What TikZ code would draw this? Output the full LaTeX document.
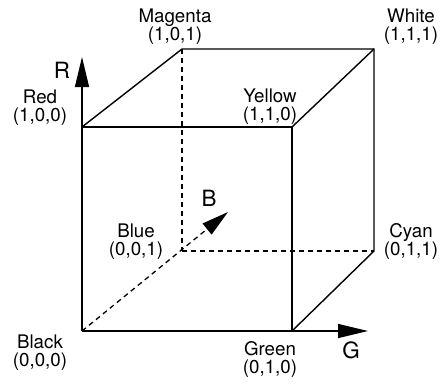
\documentclass[tikz,border=0pt]{standalone}
\usepackage{fontspec}
\setmainfont{TeX Gyre Heros}
\usetikzlibrary{arrows.meta}
\begin{document}
\begin{tikzpicture}[x=1bp,y=-1bp,
  edge/.style={line width=1.4bp},
  hidden/.style={line width=1.3bp, dash pattern=on 5bp off 4bp},
  axis/.style={line width=1.4bp, -{Triangle[length=30bp,width=14bp]}},
  lbl/.style={inner sep=0pt, align=center, font=\fontsize{18.8}{18}\selectfont},
  axlbl/.style={inner sep=0pt, font=\fontsize{22.5}{24}\selectfont}]
\useasboundingbox (0,0) rectangle (443,383);
% corners
\coordinate (K) at (82,331);
\coordinate (Rc) at (82,127);
\coordinate (Gc) at (292,331);
\coordinate (Yc) at (292,127);
\coordinate (Mc) at (182,49);
\coordinate (Wc) at (374,49);
\coordinate (Bc) at (182,251);
\coordinate (Cc) at (374,251);
\coordinate (Rtip) at (82,57);
\coordinate (Gtip) at (368,331);
\coordinate (Btip) at (228,212);
% hidden edges
\draw[hidden] (Mc) -- (Bc);
\draw[hidden] (Bc) -- (Cc);
\draw[hidden, -{Triangle[length=27bp,width=14bp]}] (K) -- (Btip);
% visible edges
\draw[edge] (Rc) -- (Yc) -- (Gc);
\draw[edge] (Rc) -- (Mc) -- (Wc) -- (Cc) -- (Gc);
\draw[edge] (Yc) -- (Wc);
% axes
\draw[axis] (K) -- (Rtip);
\draw[axis] (K) -- (Gtip);
% labels
\node[lbl] (lM) at (175,26.5) {Magenta\\(1,0,1)};
\node[lbl] (lW) at (411,26.5) {White\\(1,1,1)};
\node[lbl] (lR) at (40,107.5) {Red\\(1,0,0)};
\node[lbl] (lY) at (270,106.5) {Yellow\\(1,1,0)};
\node[lbl] (lB) at (136,241.5) {Blue\\(0,0,1)};
\node[lbl] (lC) at (411,241.5) {Cyan\\(0,1,1)};
\node[lbl] (lK) at (40,352.5) {Black\\(0,0,0)};
\node[lbl] (lG) at (270,359.5) {Green\\(0,1,0)};
\node[axlbl] (aR) at (62,70.5) {R};
\node[axlbl] (aG) at (351,350.5) {G};
\node[axlbl] (aB) at (209,198) {B};
\end{tikzpicture}
\end{document}
